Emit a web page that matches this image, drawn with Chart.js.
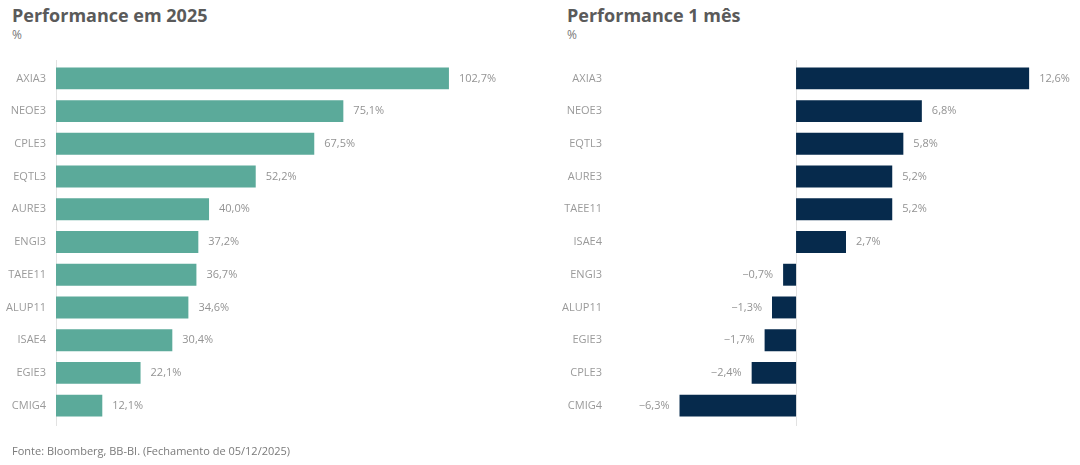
<!DOCTYPE html>
<html>
<head>
<meta charset="utf-8">
<script src="https://cdn.jsdelivr.net/npm/chart.js@4"></script>
<style>
  body { margin: 0; width: 1080px; height: 465px; background: #fff; font-family: "Open Sans", sans-serif; position: relative; overflow: hidden; }
  .titulo { position: absolute; top: 3px; font-size: 18px; font-weight: 700; color: #5a5a5a; }
  .unidad { position: absolute; top: 26px; font-size: 12px; color: #777; }
  .fonte { position: absolute; left: 12px; top: 443px; font-size: 11px; color: #7a7a7a; }
  .caja { position: absolute; top: 0; width: 540px; height: 465px; }
</style>
</head>
<body>
  <div class="titulo" style="left: 12px;">Performance em 2025</div>
  <div class="unidad" style="left: 12px;">%</div>
  <div class="titulo" style="left: 567px;">Performance 1 mês</div>
  <div class="unidad" style="left: 567px;">%</div>
  <div class="caja" style="left: 0;"><canvas id="g-ano"></canvas></div>
  <div class="caja" style="left: 540px;"><canvas id="g-mes"></canvas></div>
  <div class="fonte">Fonte: Bloomberg, BB-BI. (Fechamento de 05/12/2025)</div>

<script>
// Performance em 2025
const ativosAno = ['AXIA3', 'NEOE3', 'CPLE3', 'EQTL3', 'AURE3', 'ENGI3', 'TAEE11', 'ALUP11', 'ISAE4', 'EGIE3', 'CMIG4'];
const valoresAno = [102.7, 75.1, 67.5, 52.2, 40.0, 37.2, 36.7, 34.6, 30.4, 22.1, 12.1];

// Performance 1 mês
const ativosMes = ['AXIA3', 'NEOE3', 'EQTL3', 'AURE3', 'TAEE11', 'ISAE4', 'ENGI3', 'ALUP11', 'EGIE3', 'CPLE3', 'CMIG4'];
const valoresMes = [12.6, 6.8, 5.8, 5.2, 5.2, 2.7, -0.7, -1.3, -1.7, -2.4, -6.3];

const fmt = v => v.toLocaleString('pt-BR', { minimumFractionDigits: 1, maximumFractionDigits: 1 }).replace('-', '\u2212') + '%';

// rótulos de valor ao lado das barras
const rotulos = {
  id: 'rotulos',
  afterDatasetsDraw(chart) {
    const { ctx } = chart;
    const meta = chart.getDatasetMeta(0);
    const dados = chart.data.datasets[0].data;
    ctx.save();
    ctx.font = '11px "Open Sans", sans-serif';
    ctx.fillStyle = '#939393';
    ctx.textBaseline = 'middle';
    meta.data.forEach((bar, i) => {
      const v = dados[i];
      if (v >= 0) {
        ctx.textAlign = 'left';
        ctx.fillText(fmt(v), bar.x + 10, bar.y);
      } else {
        ctx.textAlign = 'right';
        ctx.fillText(fmt(v), bar.x - 10, bar.y);
      }
    });
    ctx.restore();
  }
};

// linha do zero
const linhaZero = {
  id: 'linhaZero',
  beforeDatasetsDraw(chart) {
    const { ctx, chartArea, scales } = chart;
    const x = Math.round(scales.x.getPixelForValue(0)) + 0.5;
    ctx.save();
    ctx.strokeStyle = '#e2e2e2';
    ctx.lineWidth = 1;
    ctx.beginPath();
    ctx.moveTo(x, chartArea.top - 2);
    ctx.lineTo(x, chartArea.bottom + 4);
    ctx.stroke();
    ctx.restore();
  }
};

function criarGrafico(id, labels, data, cor, min, max, larguraEixo) {
  const ctx = document.getElementById(id).getContext('2d');
  return new Chart(ctx, {
    type: 'bar',
    data: {
      labels,
      datasets: [{
        data,
        backgroundColor: cor,
        borderWidth: 0,
        categoryPercentage: 1,
        barPercentage: 0.67
      }]
    },
    options: {
      indexAxis: 'y',
      responsive: true,
      maintainAspectRatio: false,
      animation: false,
      layout: { padding: { top: 62, bottom: 43, left: 0, right: 0 } },
      plugins: {
        legend: { display: false },
        tooltip: { enabled: false }
      },
      scales: {
        x: {
          display: false,
          min,
          max
        },
        y: {
          grid: { display: false, drawTicks: false },
          border: { display: false },
          ticks: {
            color: '#9a9a9a',
            padding: 10,
            font: { size: 11, family: '"Open Sans", sans-serif' }
          },
          afterFit: scale => { scale.width = larguraEixo; }
        }
      }
    },
    plugins: [linhaZero, rotulos]
  });
}

criarGrafico('g-ano', ativosAno, valoresAno, '#5baa9a', 0, 126.5, 56);
criarGrafico('g-mes', ativosMes, valoresMes, '#062a4c', -9.95, 15.35, 72);
</script>
</body>
</html>
